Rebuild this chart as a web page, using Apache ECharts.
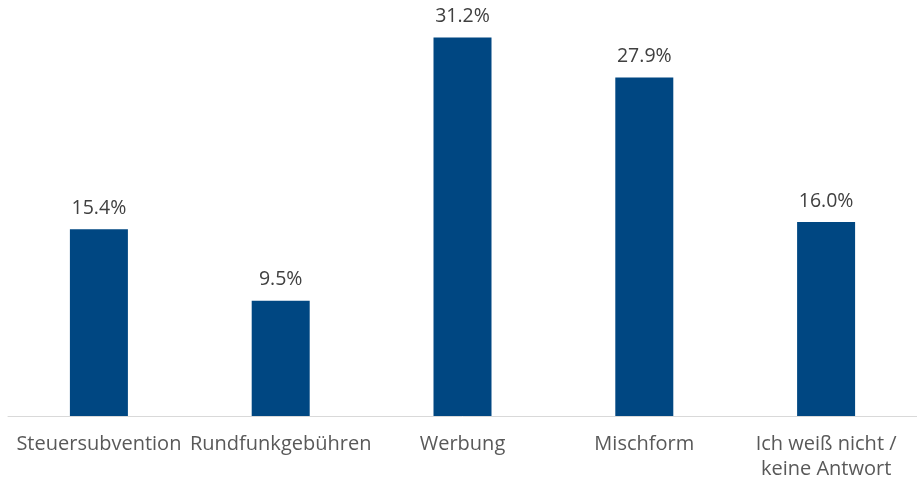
<!DOCTYPE html>
<html lang="de">
<head>
<meta charset="UTF-8">
<title>Finanzierung</title>
<script src="https://cdn.jsdelivr.net/npm/echarts@6/dist/echarts.min.js"></script>
<style>
  html, body { margin: 0; padding: 0; background: #fff; }
  #main { width: 917px; height: 482px; }
</style>
</head>
<body>
<div id="main"></div>
<script>
var categories = ['Steuersubvention', 'Rundfunkgebühren', 'Werbung', 'Mischform', 'Ich weiß nicht /\nkeine Antwort'];
var values = [15.4, 9.5, 31.2, 27.9, 16.0];

var chart = echarts.init(document.getElementById('main'));
chart.setOption({
    animation: false,
    grid: { left: 8, right: -2, top: 0, bottom: 65 },
    xAxis: {
        type: 'category',
        data: categories,
        axisLine: { lineStyle: { color: '#d9d9d9', width: 1 } },
        axisTick: { show: false },
        axisLabel: {
            interval: 0,
            margin: 16,
            color: '#595959',
            fontFamily: 'Open Sans',
            fontSize: 20,
            lineHeight: 25
        }
    },
    yAxis: {
        type: 'value',
        min: 0,
        max: 34.3,
        show: false,
        splitLine: { show: false }
    },
    series: [{
        type: 'bar',
        data: values,
        barWidth: 58,
        itemStyle: { color: '#004782' },
        label: {
            show: true,
            position: 'top',
            distance: 11,
            color: '#404040',
            fontFamily: 'Open Sans',
            fontSize: 19.5,
            formatter: function (p) { return p.value.toFixed(1) + '%'; }
        }
    }]
});
</script>
</body>
</html>
